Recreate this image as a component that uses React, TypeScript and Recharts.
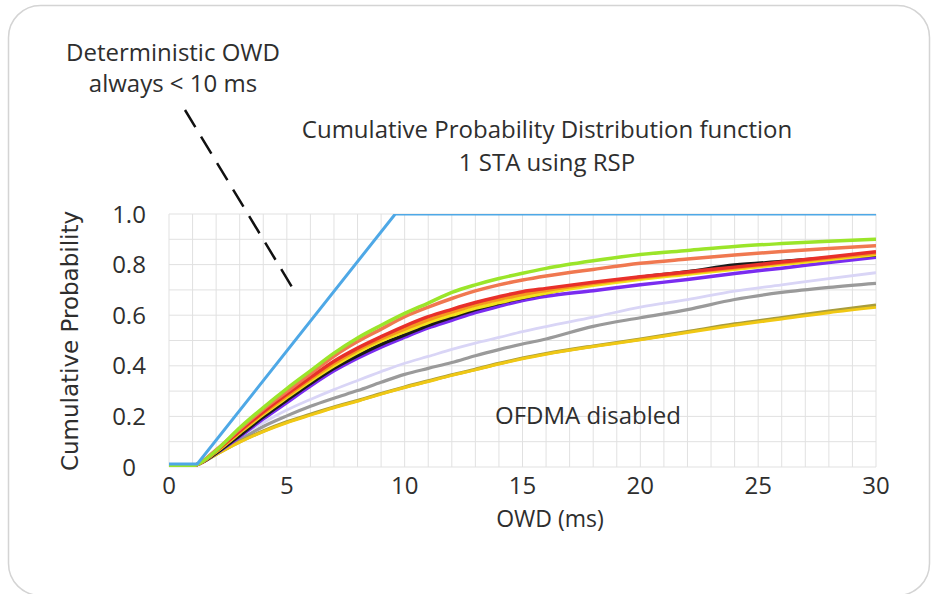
import React from 'react';
import { LineChart, Line, XAxis, YAxis, CartesianGrid } from 'recharts';

// OWD (ms) sample points shared by the measured CDF curves
const X_MS = [0, 1, 1.2, 2, 3, 4, 5, 6, 7, 8, 9, 10, 11, 12, 13, 14, 15, 16, 18, 20, 22, 24, 26, 28, 30];

const GREEN = [0.005, 0.005, 0.01, 0.065, 0.155, 0.235, 0.31, 0.38, 0.45, 0.51, 0.56, 0.607, 0.648, 0.69, 0.72, 0.745, 0.766, 0.785, 0.815, 0.84, 0.856, 0.872, 0.883, 0.892, 0.9];
const CORAL = [0.005, 0.005, 0.01, 0.068, 0.15, 0.228, 0.298, 0.368, 0.438, 0.496, 0.545, 0.594, 0.632, 0.666, 0.696, 0.72, 0.739, 0.755, 0.781, 0.805, 0.822, 0.838, 0.852, 0.864, 0.875];
const RED = [0.005, 0.005, 0.01, 0.064, 0.143, 0.218, 0.288, 0.354, 0.418, 0.47, 0.515, 0.557, 0.594, 0.623, 0.65, 0.673, 0.693, 0.706, 0.73, 0.752, 0.771, 0.79, 0.81, 0.83, 0.851];
const ORANGE = [0.005, 0.005, 0.01, 0.062, 0.139, 0.213, 0.281, 0.347, 0.409, 0.462, 0.506, 0.545, 0.582, 0.612, 0.64, 0.662, 0.682, 0.698, 0.725, 0.748, 0.768, 0.787, 0.806, 0.826, 0.845];
const YELLOW = [0.005, 0.005, 0.01, 0.06, 0.135, 0.208, 0.275, 0.34, 0.4, 0.453, 0.498, 0.535, 0.571, 0.6, 0.628, 0.65, 0.67, 0.688, 0.718, 0.742, 0.762, 0.782, 0.801, 0.82, 0.84];
const BLACK = [0.005, 0.005, 0.01, 0.055, 0.125, 0.198, 0.265, 0.33, 0.39, 0.44, 0.485, 0.522, 0.56, 0.592, 0.622, 0.647, 0.668, 0.688, 0.724, 0.75, 0.772, 0.798, 0.812, 0.826, 0.838];
const PURPLE = [0.005, 0.005, 0.01, 0.054, 0.12, 0.19, 0.255, 0.32, 0.38, 0.43, 0.474, 0.513, 0.55, 0.58, 0.61, 0.635, 0.658, 0.675, 0.697, 0.72, 0.741, 0.765, 0.786, 0.808, 0.829];
const LAVENDER = [0.005, 0.005, 0.01, 0.058, 0.12, 0.175, 0.225, 0.267, 0.306, 0.342, 0.377, 0.41, 0.437, 0.465, 0.49, 0.512, 0.535, 0.555, 0.592, 0.632, 0.662, 0.695, 0.72, 0.745, 0.768];
const GRAY = [0.005, 0.005, 0.01, 0.052, 0.108, 0.16, 0.202, 0.24, 0.272, 0.302, 0.335, 0.366, 0.39, 0.413, 0.44, 0.464, 0.486, 0.506, 0.556, 0.59, 0.622, 0.662, 0.69, 0.71, 0.726];
const OLIVE = [0.005, 0.005, 0.01, 0.05, 0.1, 0.142, 0.178, 0.208, 0.237, 0.262, 0.29, 0.316, 0.34, 0.364, 0.386, 0.409, 0.43, 0.448, 0.478, 0.505, 0.535, 0.565, 0.59, 0.616, 0.64];
const GOLD = [0.005, 0.005, 0.01, 0.049, 0.098, 0.14, 0.175, 0.205, 0.234, 0.26, 0.288, 0.314, 0.338, 0.362, 0.384, 0.407, 0.428, 0.446, 0.476, 0.503, 0.532, 0.56, 0.585, 0.61, 0.631];

// Deterministic OWD (RSP) curve
const BLUE_X = [0, 1.2, 9.6, 30];
const BLUE_Y = [0.012, 0.012, 1.0, 1.0];

const X_TICKS = Array.from({ length: 31 }, (_, i) => i);
const Y_TICKS = Array.from({ length: 11 }, (_, i) => i / 10);
const X_TICK_LABELS = ['0', '5', '10', '15', '20', '25', '30'];
const Y_TICK_LABELS = ['0', '0.2', '0.4', '0.6', '0.8', '1.0'];

const FONT = '"Open Sans", "Liberation Sans", sans-serif';
const TEXT = '#2e2e2e';

const toPts = (xs: number[], ys: number[]) => xs.map((x, i) => ({ x, y: ys[i] }));

const SERIES = [
  { name: 'gray', vals: GRAY, color: '#9a9a9a', w: 3.2 },
  { name: 'lavender', vals: LAVENDER, color: '#d9d5f6', w: 2.8 },
  { name: 'olive', vals: OLIVE, color: '#a89c3c', w: 3.4 },
  { name: 'gold', vals: GOLD, color: '#f0c814', w: 3 },
  { name: 'purple', vals: PURPLE, color: '#7a2cf0', w: 3.5 },
  { name: 'black', vals: BLACK, color: '#1a1a1a', w: 3.5 },
  { name: 'yellow', vals: YELLOW, color: '#f2e21c', w: 3.5 },
  { name: 'orange', vals: ORANGE, color: '#f59a1e', w: 3.5 },
  { name: 'red', vals: RED, color: '#e8302a', w: 3.5 },
  { name: 'coral', vals: CORAL, color: '#f07850', w: 3.5 },
  { name: 'green', vals: GREEN, color: '#9be52a', w: 3.5 },
];

const XTick = (p: any) => {
  const v = p.payload.value;
  const lbl = v % 5 === 0 ? X_TICK_LABELS[v / 5] : '';
  return (
    <text x={p.x} y={p.y + 27} textAnchor="middle" fontFamily={FONT} fontSize={24} fill={TEXT}>
      {lbl}
    </text>
  );
};

const YTick = (p: any) => {
  const k = Math.round(p.payload.value * 10);
  const lbl = k % 2 === 0 ? Y_TICK_LABELS[k / 2] : '';
  return (
    <text x={p.x - 40} y={p.y + 8.5} textAnchor="middle" fontFamily={FONT} fontSize={24} fill={TEXT}>
      {lbl}
    </text>
  );
};

export default function App() {
  return (
    <div style={{ position: 'absolute', left: 0, top: 0, width: 935, height: 594, background: '#fff' }}>
      <svg width={935} height={594} style={{ position: 'absolute', left: 0, top: 0 }}>
        <rect x={8.5} y={5.5} width={921} height={590} rx={32} ry={32} fill="#fff" stroke="#d4d4d4" strokeWidth={1.5} />
      </svg>
      <div style={{ position: 'absolute', left: 0, top: 0 }}>
        <LineChart width={935} height={594} margin={{ top: 214, right: 59, bottom: 67, left: 69 }}>
          <CartesianGrid stroke="#e1e1e1" strokeWidth={1} />
          <XAxis
            type="number"
            dataKey="x"
            domain={[0, 30]}
            ticks={X_TICKS}
            interval={0}
            allowDataOverflow
            axisLine={false}
            tickLine={false}
            tickSize={0}
            tickMargin={0}
            height={60}
            tick={<XTick />}
            label={{
              content: () => (
                <text x={550} y={527} textAnchor="middle" fontFamily={FONT} fontSize={23} fill={TEXT}>
                  OWD (ms)
                </text>
              ),
            }}
          />
          <YAxis
            type="number"
            domain={[0, 1]}
            ticks={Y_TICKS}
            interval={0}
            allowDataOverflow
            axisLine={false}
            tickLine={false}
            tickSize={0}
            tickMargin={0}
            width={100}
            tick={<YTick />}
            label={{
              content: () => (
                <text
                  x={78}
                  y={341}
                  transform="rotate(-90 78 341)"
                  textAnchor="middle"
                  fontFamily='"DejaVu Sans", sans-serif'
                  fontSize={23}
                  fill={TEXT}
                >
                  Cumulative Probability
                </text>
              ),
            }}
          />
          {SERIES.map((s) => (
            <Line
              key={s.name}
              data={toPts(X_MS, s.vals)}
              dataKey="y"
              type="monotone"
              stroke={s.color}
              strokeWidth={s.w}
              dot={false}
              activeDot={false}
              isAnimationActive={false}
            />
          ))}
          <Line
            data={toPts(BLUE_X, BLUE_Y)}
            dataKey="y"
            type="linear"
            stroke="#4ea8e6"
            strokeWidth={3}
            dot={false}
            activeDot={false}
            isAnimationActive={false}
          />
        </LineChart>
      </div>
      <svg width={935} height={594} style={{ position: 'absolute', left: 0, top: 0, pointerEvents: 'none' }}>
        <text x={173} y={61} textAnchor="middle" fontFamily={FONT} fontSize={24} fill={TEXT}>
          Deterministic OWD
        </text>
        <text x={173} y={92} textAnchor="middle" fontFamily={FONT} fontSize={24} fill={TEXT}>
          always &lt; 10 ms
        </text>
        <line x1={185} y1={110} x2={295} y2={292} stroke="#111" strokeWidth={2.5} strokeDasharray="20 11" />
        <text x={547} y={138} textAnchor="middle" fontFamily={FONT} fontSize={24} fill={TEXT}>
          Cumulative Probability Distribution function
        </text>
        <text x={547} y={171} textAnchor="middle" fontFamily={FONT} fontSize={24} fill={TEXT}>
          1 STA using RSP
        </text>
        <text x={588} y={424} textAnchor="middle" fontFamily={FONT} fontSize={24} fill={TEXT}>
          OFDMA disabled
        </text>
      </svg>
    </div>
  );
}
